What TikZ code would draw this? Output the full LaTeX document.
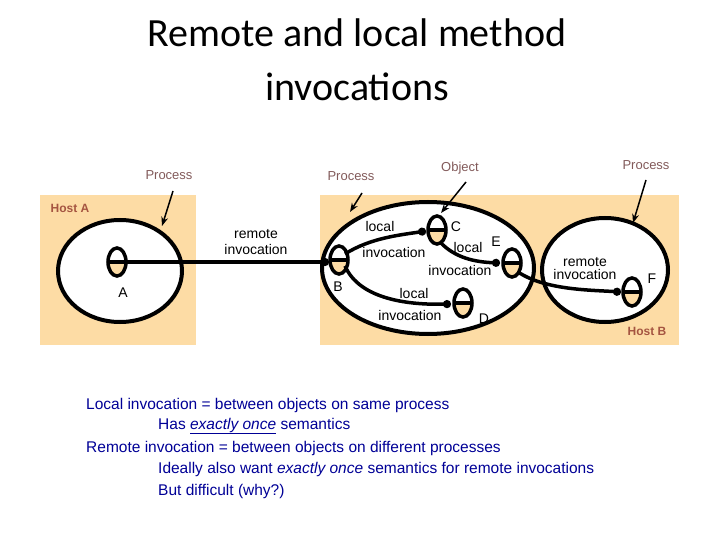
\documentclass[tikz,border=0pt]{standalone}
\usepackage{fontspec}
\setmainfont{Liberation Sans}
\newfontfamily\titlefont{Carlito}
\usetikzlibrary{arrows.meta}
\definecolor{hostfill}{RGB}{253,220,165}
\definecolor{lbl}{RGB}{130,90,90}
\definecolor{hosttxt}{RGB}{165,85,65}
\definecolor{bluetxt}{RGB}{0,0,150}
\begin{document}
\begin{tikzpicture}[x=1pt,y=-1pt,
  proc/.style={draw=black,line width=4pt,fill=white},
  lab/.style={font=\fontsize{13}{15}\selectfont,text=lbl},
  itxt/.style={font=\fontsize{14}{16}\selectfont,align=center,inner sep=0pt},
  conn/.style={line width=3.5pt,-{Circle[length=8pt]}},
  ptr/.style={line width=1.5pt,-{Stealth[length=9pt]}},
  btxt/.style={font=\fontsize{15.5}{18}\selectfont,text=bluetxt,anchor=west,inner sep=0pt}]
\useasboundingbox (0,0) rectangle (720,540);
\node[font=\titlefont\fontsize{40}{48}\selectfont] (t1) at (357,33) {Remote and local method};
\node[font=\titlefont\fontsize{40}{48}\selectfont] (t2) at (357,87) {invocations};
\fill[hostfill] (40,195) rectangle (196,345);
\fill[hostfill] (320,195) rectangle (679,345);
\node[font=\bfseries\fontsize{12}{14}\selectfont,text=hosttxt] (ha) at (70,208) {Host A};
\node[font=\bfseries\fontsize{12}{14}\selectfont,text=hosttxt] (hb) at (647,331) {Host B};
\draw[proc] (120,271) ellipse [x radius=62,y radius=51];
\draw[proc] (428,268) ellipse [x radius=106,y radius=66];
\draw[proc] (605,270) ellipse [x radius=63,y radius=52];
\coordinate (pa) at (162,226);
\coordinate (pb) at (350,212);
\coordinate (po) at (441,213);
\coordinate (pf) at (633,223);
\node[lab] (l1) at (169,175) {Process};
\node[lab] (l2) at (351,176) {Process};
\node[lab] (l3) at (460,168) {Object};
\node[lab] (l4) at (646,165) {Process};
\draw[ptr] (173,191) -- (pa);
\draw[ptr] (362,193) -- (pb);
\draw[ptr] (466,182) -- (po);
\draw[ptr] (646,180) -- (pf);
\foreach \n/\x/\y in {A/117/262,B/339/260,C/437/230,E/512/263,D/463/303,F/632/292}{
  \begin{scope}
    \clip (\x-12,\y) rectangle (\x+12,\y+18);
    \fill[hostfill] (\x,\y) ellipse [x radius=9,y radius=14];
  \end{scope}
  \draw[line width=3.5pt] (\x,\y) ellipse [x radius=9,y radius=14];
  \draw[line width=3.5pt] (\x-9,\y) -- (\x+9,\y);
  \coordinate (\n) at (\x,\y);
}
\draw[conn] (A) -- (329,262);
\draw[conn] (345,254) .. controls (370,238) and (400,235) .. (426,231);
\draw[conn] (345,266) .. controls (360,300) and (410,305) .. (451,304);
\draw[conn] (440,242) .. controls (455,258) and (475,262) .. (500,263);
\draw[conn] (518,272) .. controls (545,290) and (590,290) .. (621,292);
\node[itxt] (r1) at (256,242) {remote\\invocation};
\node[itxt] at (380,226) {local};
\node[itxt] at (394,252) {invocation};
\node[itxt] at (456,227) {C};
\node[itxt] at (468,247) {local};
\node[itxt] at (496,242) {E};
\node[itxt] at (460,270) {invocation};
\node[itxt] at (338,287) {B};
\node[itxt] at (123,293) {A};
\node[itxt] at (414,293) {local};
\node[itxt] at (410,315) {invocation};
\node[itxt] at (484,319) {D};
\node[itxt,font=\fontsize{14}{13}\selectfont] (r2) at (585,269) {remote\\invocation};
\node[itxt] at (652,279) {F};
\node[btxt] at (86,405) {Local invocation = between objects on same process};
\node[btxt] at (158,426) {Has \underline{\textit{exactly once}} semantics};
\node[btxt] at (86,448) {Remote invocation = between objects on different processes};
\node[btxt] at (158,469) {Ideally also want \textit{exactly once} semantics for remote invocations};
\node[btxt] at (158,491) {But difficult (why?)};
\end{tikzpicture}
\end{document}
